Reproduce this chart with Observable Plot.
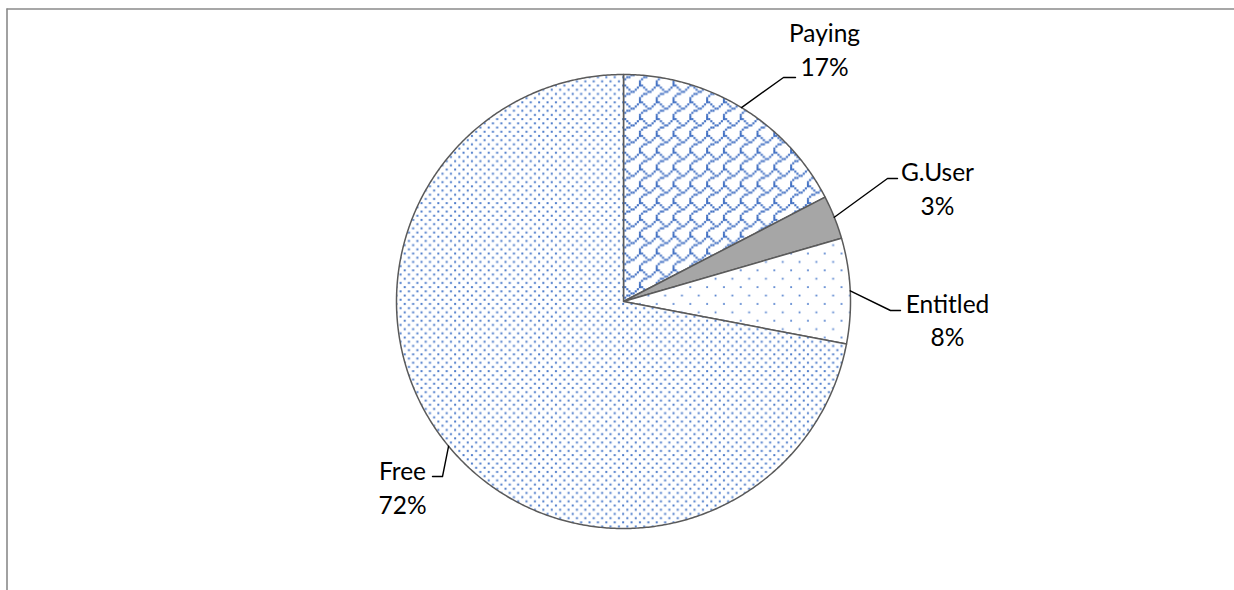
<!DOCTYPE html>
<html>
<head>
<meta charset="utf-8">
<script src="https://cdn.jsdelivr.net/npm/d3@7"></script>
<script src="https://cdn.jsdelivr.net/npm/@observablehq/plot@0.6"></script>
<style>
  html, body { margin: 0; padding: 0; background: #fff; }
</style>
</head>
<body>
<div id="chart"></div>
<script>
// ---- data ----
const categories = ["Paying", "G.User", "Entitled", "Free"];
const values = [17.4, 3.1, 7.5, 72.0];
const pctLabels = ["17%", "3%", "8%", "72%"];

// ---- layout (pixels) ----
const W = 1234, H = 590;
const CX = 623, CY = 301, R = 227;
const fills = ["url(#pat-paying)", "#a6a6a6", "url(#pat-entitled)", "url(#pat-free)"];
const elbows = [[783, 77], [887, 178], [890, 310], [442, 476]];
const ends = [[795, 77], [897, 178], [900, 310], [432, 476]];
const textX = [824, 937, 947, 402];
const nameY = [41, 180, 312, 479];
const pctY = [75, 214, 345, 513];

// ---- geometry from data ----
const total = d3.sum(values);
const pt = (a) => [CX + R * Math.sin(a), CY - R * Math.cos(a)];
let acc = 0;
const slices = categories.map((c, i) => {
  const a0 = acc / total * 2 * Math.PI;
  acc += values[i];
  const a1 = acc / total * 2 * Math.PI;
  const pts = [[CX, CY]];
  const n = Math.max(2, Math.ceil((a1 - a0) / (Math.PI / 360)));
  for (let k = 0; k <= n; k++) pts.push(pt(a0 + (a1 - a0) * k / n));
  pts.push([CX, CY]);
  return {name: c, pts, mid: (a0 + a1) / 2};
});

const leaders = [];
slices.forEach((s, i) => {
  const p = pt(s.mid);
  leaders.push({k: i, x: p[0], y: p[1]});
  leaders.push({k: i, x: elbows[i][0], y: elbows[i][1]});
  leaders.push({k: i, x: ends[i][0], y: ends[i][1]});
});

const labels = categories.map((c, i) => ({name: c, pct: pctLabels[i], x: textX[i], y1: nameY[i], y2: pctY[i]}));

const marks = [
  Plot.ruleX([6.5], {y1: 8.5, y2: H, stroke: "#8a8a8a", strokeWidth: 1.6}),
  Plot.ruleY([8.5], {x1: 6.5, x2: W, stroke: "#8a8a8a", strokeWidth: 1.6}),
];
slices.forEach((s, i) => {
  marks.push(Plot.line(s.pts, {
    x: d => d[0], y: d => d[1], curve: "linear",
    fill: fills[i], stroke: "#5a5a5a", strokeWidth: 1.5, strokeLinejoin: "round"
  }));
});
marks.push(Plot.line(leaders, {x: "x", y: "y", z: "k", stroke: "#000", strokeWidth: 1.4}));
marks.push(Plot.text(labels, {x: "x", y: "y1", text: "name", fontSize: 24.5, fill: "#000", lineAnchor: "bottom"}));
marks.push(Plot.text(labels, {x: "x", y: "y2", text: "pct", fontSize: 24.5, fill: "#000", lineAnchor: "bottom"}));

const svg = Plot.plot({
  width: W, height: H,
  margin: 0,
  x: {domain: [0, W], range: [0, W], axis: null},
  y: {domain: [0, H], range: [0, H], axis: null},
  style: {fontFamily: "Lato, 'Open Sans', sans-serif", background: "#fff"},
  marks
});

// ---- hatch patterns (8x8 bitmaps, scaled) ----
function bitmapPattern(id, rows, s, color, size) {
  const t = 8 * s;
  let rects = "";
  rows.forEach((byte, y) => {
    for (let x = 0; x < 8; x++) {
      if (byte & (1 << x)) {
        const off = (s - size) / 2;
        rects += `<rect x="${(x * s + off).toFixed(2)}" y="${(y * s + off).toFixed(2)}" width="${size}" height="${size}" fill="${color}"/>`;
      }
    }
  });
  return `<pattern id="${id}" patternUnits="userSpaceOnUse" width="${t}" height="${t}"><rect width="${t}" height="${t}" fill="#fff"/>${rects}</pattern>`;
}
const S = 2.1;
const defs = "<defs>" +
  bitmapPattern("pat-free", [0x11, 0x00, 0x44, 0x00, 0x11, 0x00, 0x44, 0x00], S, "#4f7dcb", 2.0) +
  bitmapPattern("pat-entitled", [0x01, 0x00, 0x00, 0x00, 0x10, 0x00, 0x00, 0x00], S, "#5a86d0", 1.8) +
  bitmapPattern("pat-paying", [0x03, 0x84, 0x48, 0x30, 0x0c, 0x02, 0x01, 0x01], S, "#4472c4", S) +
  "</defs>";
svg.insertAdjacentHTML("afterbegin", defs);
document.getElementById("chart").appendChild(svg);
</script>
</body>
</html>
